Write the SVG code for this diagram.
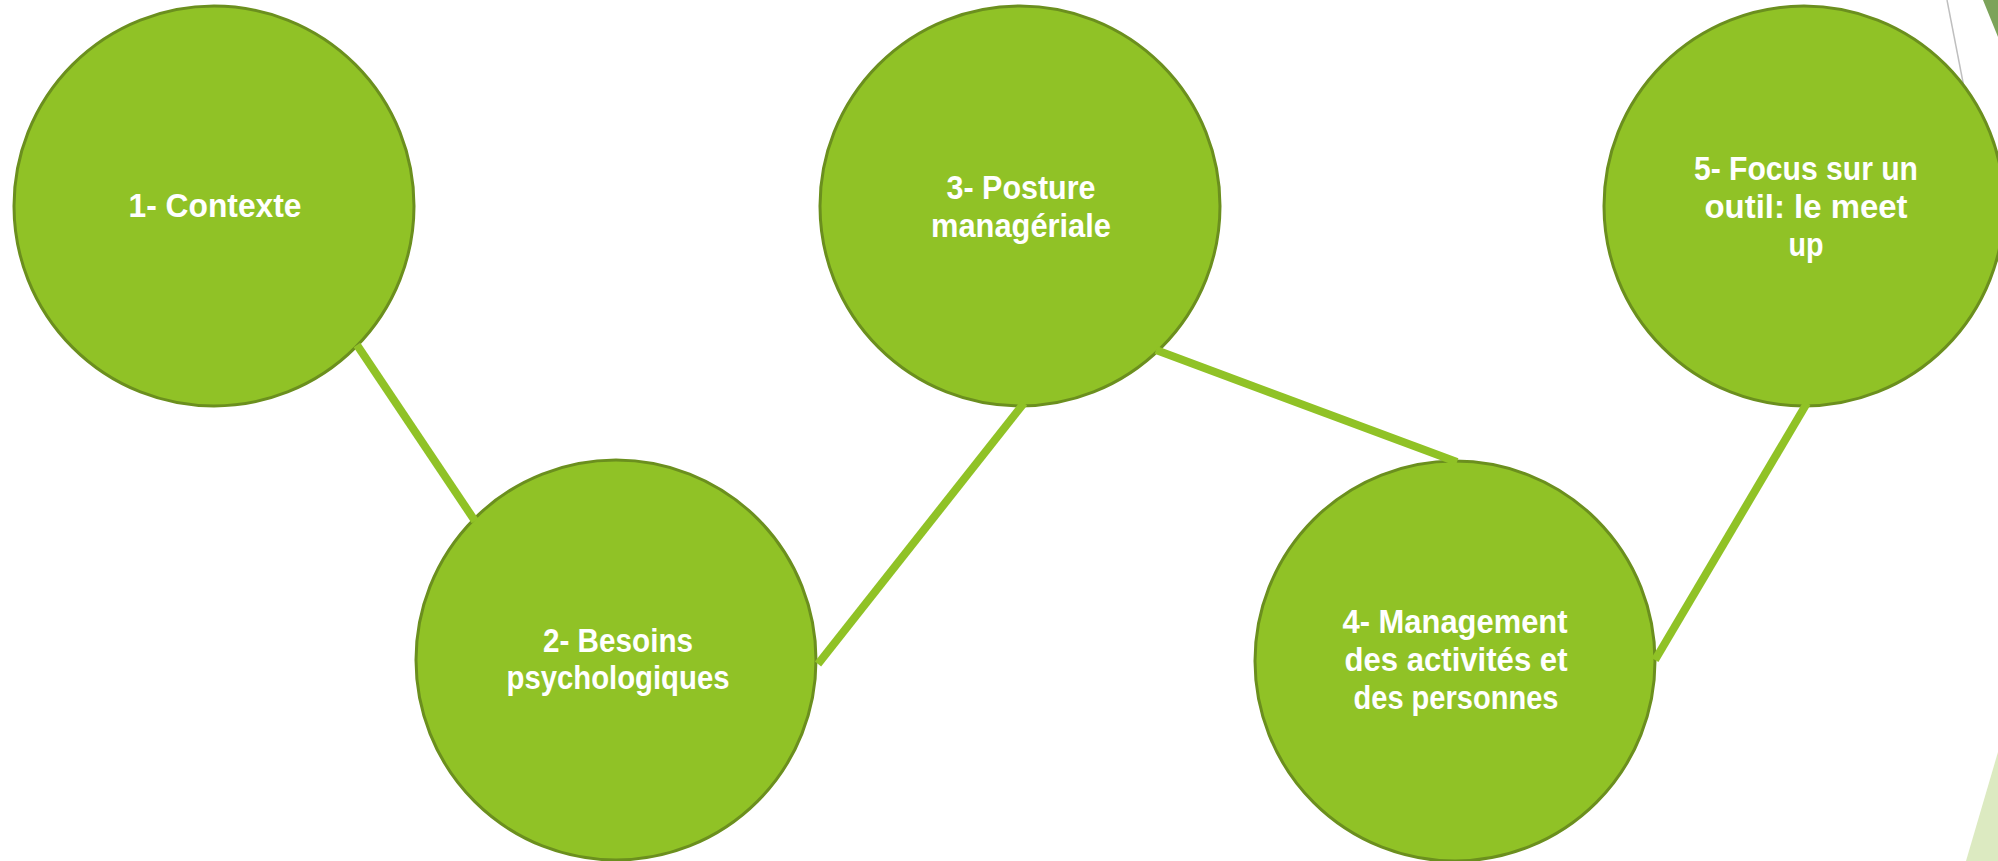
<svg xmlns="http://www.w3.org/2000/svg" width="1998" height="861" viewBox="0 0 1998 861">
  <style>
    .node circle { fill: #90C226; stroke: #6B8F1E; stroke-width: 3; }
    .node text { fill: #FFFFFF; font-family: "Liberation Sans", Arial, sans-serif; font-weight: bold; font-size: 33px; text-anchor: middle; }
    .link { stroke: #90C226; stroke-width: 8; stroke-linecap: butt; fill: none; }
  </style>

  <rect x="0" y="0" width="1998" height="861" fill="#FFFFFF"/>

  <!-- corner accents -->
  <g id="accents">
    <line x1="1947" y1="0" x2="1998" y2="262" stroke="#BFBFBF" stroke-width="1.5"/>
    <polygon points="1983,0 1998,0 1998,37" fill="#7CA35A"/>
    <polygon points="1966,861 1998,752 1998,861" fill="#DCEAC1"/>
  </g>

  <g id="node1" class="node">
    <circle cx="214" cy="206" r="200"/>
    <text x="215" y="217" textLength="173" lengthAdjust="spacingAndGlyphs">1- Contexte</text>
  </g>

  <g id="node2" class="node">
    <circle cx="616" cy="660" r="200"/>
    <text x="618" y="652" textLength="150" lengthAdjust="spacingAndGlyphs">2- Besoins</text>
    <text x="618" y="689" textLength="223" lengthAdjust="spacingAndGlyphs">psychologiques</text>
  </g>

  <g id="node3" class="node">
    <circle cx="1020" cy="206" r="200"/>
    <text x="1021" y="199" textLength="149" lengthAdjust="spacingAndGlyphs">3- Posture</text>
    <text x="1021" y="237" textLength="180" lengthAdjust="spacingAndGlyphs">managériale</text>
  </g>

  <g id="node4" class="node">
    <circle cx="1455" cy="661" r="200"/>
    <text x="1455" y="633" textLength="225" lengthAdjust="spacingAndGlyphs">4- Management</text>
    <text x="1456" y="671" textLength="223" lengthAdjust="spacingAndGlyphs">des activités et</text>
    <text x="1456" y="709" textLength="205" lengthAdjust="spacingAndGlyphs">des personnes</text>
  </g>

  <g id="node5" class="node">
    <circle cx="1804" cy="206" r="200"/>
    <text x="1806" y="180" textLength="224" lengthAdjust="spacingAndGlyphs">5- Focus sur un</text>
    <text x="1806" y="218" textLength="203" lengthAdjust="spacingAndGlyphs">outil: le meet</text>
    <text x="1806" y="256" textLength="35" lengthAdjust="spacingAndGlyphs">up</text>
  </g>

  <!-- connectors between consecutive steps -->
  <g id="connectors">
    <line class="link" x1="357" y1="345" x2="475" y2="521"/>
    <line class="link" x1="818" y1="664" x2="1024" y2="403"/>
    <line class="link" x1="1156" y1="350" x2="1457" y2="462"/>
    <line class="link" x1="1807" y1="403" x2="1655" y2="660"/>
  </g>
</svg>
